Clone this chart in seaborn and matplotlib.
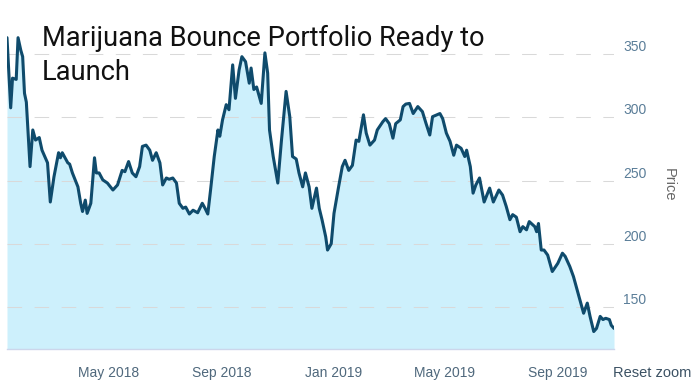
import pandas as pd
import matplotlib
matplotlib.use("Agg")
import matplotlib.pyplot as plt
import matplotlib.dates as mdates
import seaborn as sns

# price readings taken off the chart
dates = [
    "2018-01-11", "2018-01-15", "2018-01-17", "2018-01-21", "2018-01-23", "2018-01-26",
    "2018-01-28", "2018-01-30", "2018-02-01", "2018-02-05", "2018-02-08", "2018-02-11",
    "2018-02-15", "2018-02-18", "2018-02-24", "2018-02-27", "2018-03-03", "2018-03-08",
    "2018-03-10", "2018-03-12", "2018-03-18", "2018-03-20", "2018-03-23", "2018-03-29",
    "2018-04-01", "2018-04-03", "2018-04-06", "2018-04-08", "2018-04-12", "2018-04-16",
    "2018-04-18", "2018-04-21", "2018-04-25", "2018-04-30", "2018-05-06", "2018-05-11",
    "2018-05-16", "2018-05-19", "2018-05-23", "2018-05-27", "2018-05-31", "2018-06-04",
    "2018-06-07", "2018-06-11", "2018-06-15", "2018-06-18", "2018-06-22", "2018-06-26",
    "2018-06-29", "2018-07-03", "2018-07-06", "2018-07-10", "2018-07-14", "2018-07-17",
    "2018-07-21", "2018-07-24", "2018-07-28", "2018-08-01", "2018-08-06", "2018-08-11",
    "2018-08-14", "2018-08-17", "2018-08-20", "2018-08-24", "2018-08-28", "2018-08-30",
    "2018-09-02", "2018-09-06", "2018-09-09", "2018-09-13", "2018-09-16", "2018-09-20",
    "2018-09-23", "2018-09-27", "2018-10-01", "2018-10-03", "2018-10-06", "2018-10-09",
    "2018-10-14", "2018-10-18", "2018-10-21", "2018-10-23", "2018-10-27", "2018-11-01",
    "2018-11-05", "2018-11-10", "2018-11-14", "2018-11-17", "2018-11-21", "2018-11-24",
    "2018-11-28", "2018-12-01", "2018-12-05", "2018-12-08", "2018-12-13", "2018-12-16",
    "2018-12-19", "2018-12-23", "2018-12-25", "2018-12-29", "2019-01-01", "2019-01-06",
    "2019-01-10", "2019-01-13", "2019-01-17", "2019-01-21", "2019-01-25", "2019-01-28",
    "2019-02-02", "2019-02-05", "2019-02-09", "2019-02-14", "2019-02-17", "2019-02-23",
    "2019-02-26", "2019-03-02", "2019-03-06", "2019-03-09", "2019-03-14", "2019-03-17",
    "2019-03-20", "2019-03-24", "2019-03-28", "2019-04-02", "2019-04-07", "2019-04-11",
    "2019-04-15", "2019-04-18", "2019-04-26", "2019-04-29", "2019-05-03", "2019-05-07",
    "2019-05-11", "2019-05-14", "2019-05-19", "2019-05-23", "2019-05-25", "2019-05-29",
    "2019-06-01", "2019-06-04", "2019-06-08", "2019-06-13", "2019-06-19", "2019-06-23",
    "2019-06-29", "2019-07-03", "2019-07-07", "2019-07-11", "2019-07-14", "2019-07-18",
    "2019-07-22", "2019-07-25", "2019-07-29", "2019-08-01", "2019-08-07", "2019-08-09",
    "2019-08-11", "2019-08-14", "2019-08-17", "2019-08-21", "2019-08-26", "2019-09-01",
    "2019-09-06", "2019-09-09", "2019-09-14", "2019-09-18", "2019-09-23", "2019-09-25",
    "2019-09-29", "2019-10-03", "2019-10-06", "2019-10-10", "2019-10-13", "2019-10-17",
    "2019-10-20", "2019-10-23", "2019-10-27", "2019-10-29", "2019-11-01",
]
prices = [
    363, 307.5, 331, 330, 363, 353,
    348, 319, 312, 261, 290, 282,
    284, 274, 264, 233, 253, 272,
    268, 272, 264, 263, 256, 245,
    232, 225.5, 234.5, 224, 232, 268,
    256, 256, 250.5, 248, 242.5, 246.5,
    258, 257, 265, 256, 253, 261,
    277, 278, 274, 266, 272, 264,
    246.5, 252, 251, 252, 248, 232,
    228, 229, 223.5, 226.5, 224.5, 232,
    228, 223.5, 242.5, 269, 290, 285,
    298, 310, 306, 341.5, 315, 337.5,
    348, 344, 327, 339, 322, 324,
    311, 351, 335, 290, 269, 248,
    282, 320.5, 300.5, 269, 267, 256,
    245, 256, 245, 228, 244, 228,
    219, 205.5, 195, 200, 224, 245,
    261, 266, 258, 262, 282, 281,
    302, 287.5, 278, 282, 290, 296.5,
    299, 295, 283.5, 295, 298, 308.5,
    310.5, 311, 303, 308.5, 304.5, 295,
    286, 300.5, 303, 299, 287.5, 281,
    270, 278, 275.5, 269, 274, 261,
    240, 246.5, 252, 233, 244, 233,
    242.5, 238.5, 229.5, 219, 223, 221,
    209.5, 213.5, 211, 217.5, 213.5, 209.5,
    216, 195, 195, 191, 178, 184.5,
    192.5, 190, 182, 174, 161, 155.5,
    145, 153, 142.5, 130.5, 133, 142.5,
    140, 141, 140, 135.5, 133,
]
y_ticks = [150, 200, 250, 300, 350]
title = "Marijuana Bounce Portfolio Ready to\nLaunch"

df = pd.DataFrame({"date": pd.to_datetime(dates), "price": prices})

sns.set_style("white")
plt.rcParams["font.family"] = ["Liberation Sans", "DejaVu Sans"]

fig = plt.figure(figsize=(6.96, 3.85), dpi=100)
ax = fig.add_axes([7 / 696, 36 / 385, 607 / 696, 329 / 385])

y_low, y_high = 116.7, 377
ax.fill_between(df["date"], df["price"], y_low, color="#cdf0fc", lw=0, zorder=1)
sns.lineplot(data=df, x="date", y="price", ax=ax, color="#0f4b6c", lw=2.2, zorder=3)

ax.set_xlim(df["date"].iloc[0], df["date"].iloc[-1])
ax.set_ylim(y_low, y_high)

# y axis on the right like the original
ax.yaxis.tick_right()
ax.yaxis.set_label_position("right")
ax.set_yticks(y_ticks)
ax.tick_params(axis="y", length=0, pad=6.5, labelsize=10, labelcolor="#5a7d98")
for lab in ax.get_yticklabels():
    lab.set_va("bottom")
ax.set_ylabel("Price", rotation=270, va="bottom", color="#666666", fontsize=10.5, labelpad=11)

ax.xaxis.set_major_locator(mdates.MonthLocator(bymonth=[1, 5, 9]))
ax.xaxis.set_major_formatter(mdates.DateFormatter("%b %Y"))
ax.tick_params(axis="x", direction="out", length=7.2, width=0.8, color="#ccd6eb",
               pad=5, labelsize=10, labelcolor="#4f687c")
ax.set_xlabel("")

ax.set_axisbelow(False)
ax.grid(axis="y", color="#d9d9d9", lw=0.75, linestyle=(0, (14, 12)), zorder=2)
ax.grid(axis="x", visible=False)

for s in ["left", "top", "right"]:
    ax.spines[s].set_visible(False)
ax.spines["bottom"].set_color("#ccd6eb")
ax.spines["bottom"].set_linewidth(1)

fig.text(42 / 696, 1 - 25 / 385, title, fontsize=19.6, family=["Roboto", "DejaVu Sans"],
         color="#111111", va="top", ha="left", linespacing=1.32)
fig.text(652 / 696, 12 / 385, "Reset zoom", fontsize=10.5, color="#3b5163",
         ha="center", va="center")

fig.savefig("out.png", dpi=100)
